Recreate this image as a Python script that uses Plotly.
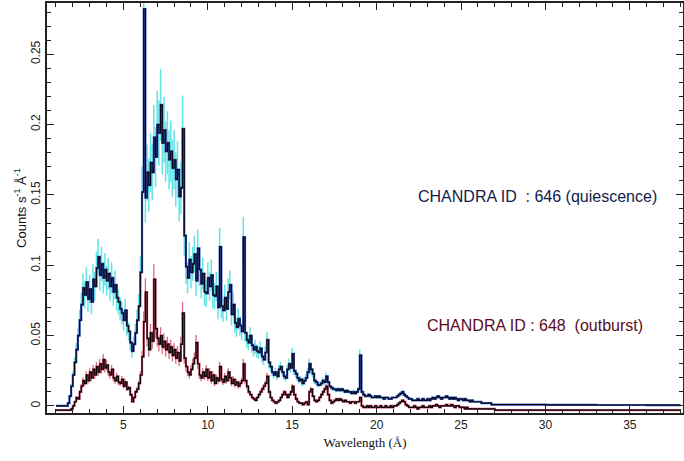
import plotly.graph_objects as go

# Wavelength grid (Angstrom): 0.1 A bins from 1.0 to 26.9, then coarse tail
wl_main = [round(1.0 + 0.1 * i, 1) for i in range(260)]
wl_tail = [27, 28, 29, 30, 31, 32, 33, 34, 35, 36, 37, 38]
wavelength = wl_main + wl_tail

# CHANDRA ID 646 (quiescence), counts s^-1 A^-1
quiescence = [
    0, 0, 0, 0, 0, 0, 0, 0.002, 0.007, 0.014,
    0.022, 0.031, 0.040, 0.050, 0.061, 0.072, 0.084, 0.079, 0.088, 0.076,
    0.083, 0.074, 0.090, 0.085, 0.098, 0.106, 0.093, 0.101, 0.091, 0.097,
    0.089, 0.094, 0.085, 0.091, 0.081, 0.086, 0.077, 0.074, 0.069, 0.066,
    0.061, 0.068, 0.057, 0.053, 0.045, 0.039, 0.044, 0.052, 0.061, 0.071,
    0.095, 0.152, 0.282, 0.148, 0.166, 0.157, 0.173, 0.166, 0.191, 0.177,
    0.200, 0.194, 0.214, 0.187, 0.196, 0.181, 0.187, 0.175, 0.181, 0.169,
    0.175, 0.161, 0.168, 0.149, 0.155, 0.197, 0.121, 0.099, 0.091, 0.104,
    0.095, 0.101, 0.108, 0.089, 0.112, 0.097, 0.087, 0.094, 0.081, 0.080,
    0.091, 0.085, 0.093, 0.079, 0.078, 0.085, 0.070, 0.113, 0.071, 0.068,
    0.077, 0.069, 0.081, 0.086, 0.065, 0.072, 0.059, 0.056, 0.062, 0.057,
    0.053, 0.120, 0.052, 0.047, 0.045, 0.050, 0.043, 0.040, 0.042, 0.039,
    0.038, 0.041, 0.035, 0.033, 0.038, 0.047, 0.031, 0.028, 0.024, 0.022,
    0.024, 0.021, 0.026, 0.028, 0.024, 0.021, 0.020, 0.026, 0.030, 0.027,
    0.037, 0.025, 0.023, 0.020, 0.018, 0.019, 0.016, 0.018, 0.020, 0.024,
    0.030, 0.026, 0.023, 0.018, 0.017, 0.015, 0.015, 0.016, 0.018, 0.017,
    0.021, 0.017, 0.014, 0.013, 0.012, 0.012, 0.011, 0.012, 0.011, 0.012,
    0.011, 0.010, 0.011, 0.010, 0.010, 0.009, 0.010, 0.009, 0.010, 0.012,
    0.036, 0.010, 0.008, 0.007, 0.007, 0.008, 0.007, 0.006, 0.006, 0.007,
    0.006, 0.007, 0.006, 0.006, 0.005, 0.006, 0.006, 0.005, 0.005, 0.006,
    0.006, 0.006, 0.007, 0.008, 0.009, 0.010, 0.008, 0.007, 0.006, 0.005,
    0.005, 0.004, 0.004, 0.004, 0.005, 0.004, 0.004, 0.005, 0.004, 0.004,
    0.005, 0.004, 0.005, 0.006, 0.005, 0.006, 0.007, 0.006, 0.005, 0.006,
    0.006, 0.007, 0.006, 0.005, 0.006, 0.005, 0.006, 0.005, 0.004, 0.005,
    0.005, 0.004, 0.005, 0.004, 0.004, 0.003, 0.004, 0.003, 0.003, 0.003,
    0.003, 0.003, 0.002, 0.002, 0.002, 0.002, 0.002, 0.002, 0.001, 0.001,
    0.001, 0.001, 0.001, 0.0008, 0.0008, 0.0008, 0.0007, 0.0007, 0.0007, 0.0006, 0.0006, 0.0006,
]

# CHANDRA ID 648 (outburst), counts s^-1 A^-1
outburst = [
    -0.003, -0.003, -0.003, -0.003, -0.003, -0.003, -0.003, -0.003, -0.003, -0.002,
    0.000, 0.003, 0.006, 0.005, 0.010, 0.014, 0.018, 0.016, 0.022, 0.018,
    0.024, 0.020, 0.026, 0.022, 0.028, 0.024, 0.030, 0.026, 0.033, 0.027,
    0.029, 0.024, 0.022, 0.026, 0.020, 0.018, 0.021, 0.017, 0.016, 0.019,
    0.014, 0.017, 0.012, 0.013, 0.008, 0.003, 0.006, 0.010, 0.012, 0.016,
    0.022, 0.035, 0.060, 0.081, 0.048, 0.040, 0.052, 0.046, 0.090, 0.055,
    0.048, 0.044, 0.050, 0.042, 0.046, 0.040, 0.044, 0.038, 0.042, 0.036,
    0.040, 0.034, 0.038, 0.032, 0.044, 0.066, 0.034, 0.028, 0.024, 0.022,
    0.026, 0.030, 0.034, 0.045, 0.030, 0.022, 0.020, 0.024, 0.021, 0.026,
    0.020, 0.024, 0.018, 0.022, 0.016, 0.020, 0.018, 0.028, 0.019, 0.017,
    0.021, 0.018, 0.024, 0.020, 0.016, 0.019, 0.015, 0.017, 0.014, 0.016,
    0.018, 0.030, 0.018, 0.014, 0.010, 0.008, 0.006, 0.005, 0.004, 0.006,
    0.008, 0.010, 0.012, 0.014, 0.016, 0.021, 0.010, 0.006, 0.004, 0.003,
    0.002, 0.003, 0.004, 0.006, 0.008, 0.010, 0.008, 0.006, 0.008, 0.010,
    0.014, 0.008, 0.005, 0.003, 0.002, 0.002, 0.001, 0.002, 0.003, 0.001,
    0.010, 0.012, 0.007, 0.004, 0.003, 0.004, 0.006, 0.008, 0.010, 0.012,
    0.014, 0.008, 0.004, 0.002, 0.003, 0.004, 0.005, 0.004, 0.005, 0.004,
    0.003, 0.004, 0.003, 0.003, 0.002, 0.003, 0.003, 0.002, 0.003, 0.003,
    0.006, 0.000, -0.001, -0.001, 0.000, -0.001, 0.000, -0.001, -0.001, 0.000,
    -0.001, -0.001, 0.000, -0.001, -0.001, 0.000, -0.001, -0.001, 0.000, -0.001,
    0.000, 0.000, 0.001, 0.002, 0.003, 0.004, 0.003, 0.001, 0.000, -0.001,
    -0.001, -0.001, 0.000, -0.001, -0.002, -0.001, -0.001, 0.000, -0.001, -0.001,
    -0.001, 0.000, -0.001, 0.000, 0.000, 0.001, 0.000, -0.001, 0.000, 0.000,
    0.000, 0.001, 0.000, 0.000, 0.001, 0.000, -0.001, 0.000, 0.000, -0.001,
    -0.001, -0.001, -0.002, -0.001, -0.002, -0.002, -0.002, -0.002, -0.002, -0.002,
    -0.002, -0.002, -0.002, -0.002, -0.002, -0.002, -0.002, -0.002, -0.002, -0.002,
    -0.003, -0.003, -0.003, -0.003, -0.003, -0.003, -0.003, -0.003, -0.003, -0.003, -0.003, -0.003,
]

label_q = "CHANDRA ID\u00a0 : 646 (quiescence)"
label_o = "CHANDRA ID : 648\u00a0 (outburst)"

fig = go.Figure()

# quiescence: cyan error bars, blue edge, dark line
fig.add_trace(go.Scatter(
    x=wavelength, y=quiescence, mode="lines", line=dict(width=0, color="rgba(0,0,0,0)"),
    error_y=dict(type="percent", value=12, color="#62e4e4", thickness=1.5, width=0),
    hoverinfo="skip", showlegend=False))
fig.add_trace(go.Scatter(
    x=wavelength, y=quiescence, mode="lines", line_shape="hv",
    line=dict(width=2.2, color="#3c5cc0"), hoverinfo="skip", showlegend=False))
fig.add_trace(go.Scatter(
    x=wavelength, y=quiescence, mode="lines", line_shape="hv",
    line=dict(width=1.2, color="#06061a"), showlegend=False))

# outburst: pink error bars, pink edge, black line
fig.add_trace(go.Scatter(
    x=wavelength, y=outburst, mode="lines", line=dict(width=0, color="rgba(0,0,0,0)"),
    error_y=dict(type="percent", value=12, color="#d86a84", thickness=1.3, width=0),
    hoverinfo="skip", showlegend=False))
fig.add_trace(go.Scatter(
    x=wavelength, y=outburst, mode="lines", line_shape="hv",
    line=dict(width=2.2, color="#c8506c"), hoverinfo="skip", showlegend=False))
fig.add_trace(go.Scatter(
    x=wavelength, y=outburst, mode="lines", line_shape="hv",
    line=dict(width=1.2, color="#000000"), showlegend=False))

fig.add_annotation(x=29.5, y=0.1487, xref="x", yref="y", text=label_q, showarrow=False,
                   font=dict(family="Liberation Sans, Arial, sans-serif",
                             size=16, color="#101c4c"))
fig.add_annotation(x=29.4, y=0.0569, xref="x", yref="y", text=label_o, showarrow=False,
                   font=dict(family="Liberation Sans, Arial, sans-serif",
                             size=16, color="#5a0c1c"))

axis_common = dict(
    showline=True, linecolor="#222222", linewidth=1.5, mirror="allticks",
    ticks="inside", ticklen=7, tickwidth=1.3, tickcolor="#222222",
    showgrid=False, zeroline=False, automargin=False,
    tickfont=dict(family="Liberation Sans, Arial, sans-serif", size=12, color="#222222"),
)

fig.update_xaxes(
    range=[0.47, 38.15], dtick=5, tick0=0,
    minor=dict(dtick=1, ticks="inside", ticklen=4, tickcolor="#222222", tickwidth=1),
    title=dict(text="Wavelength (Å)", standoff=7,
               font=dict(family="Liberation Serif, DejaVu Serif, serif", size=13, color="#111111")),
    **axis_common)
fig.update_yaxes(
    range=[-0.005, 0.2864], tickangle=-90,
    tickvals=[0, 0.05, 0.1, 0.15, 0.2, 0.25],
    ticktext=["0", "0.05", "0.1", "0.15", "0.2", "0.25"],
    minor=dict(dtick=0.01, tick0=0, ticks="inside", ticklen=4, tickcolor="#222222", tickwidth=1),
    title=dict(text="Counts s<sup>-1</sup> Å<sup>-1</sup>", standoff=0,
               font=dict(family="Liberation Sans, Arial, sans-serif", size=13, color="#111111")),
    **axis_common)

fig.update_layout(
    width=684, height=461,
    margin=dict(l=47, r=1, t=3, b=48),
    paper_bgcolor="white", plot_bgcolor="white",
)

fig.write_html("out.html", config={"displayModeBar": False},
               post_script="document.body.style.margin='0';document.body.style.padding='0';"
                           "document.documentElement.style.overflow='hidden';")
